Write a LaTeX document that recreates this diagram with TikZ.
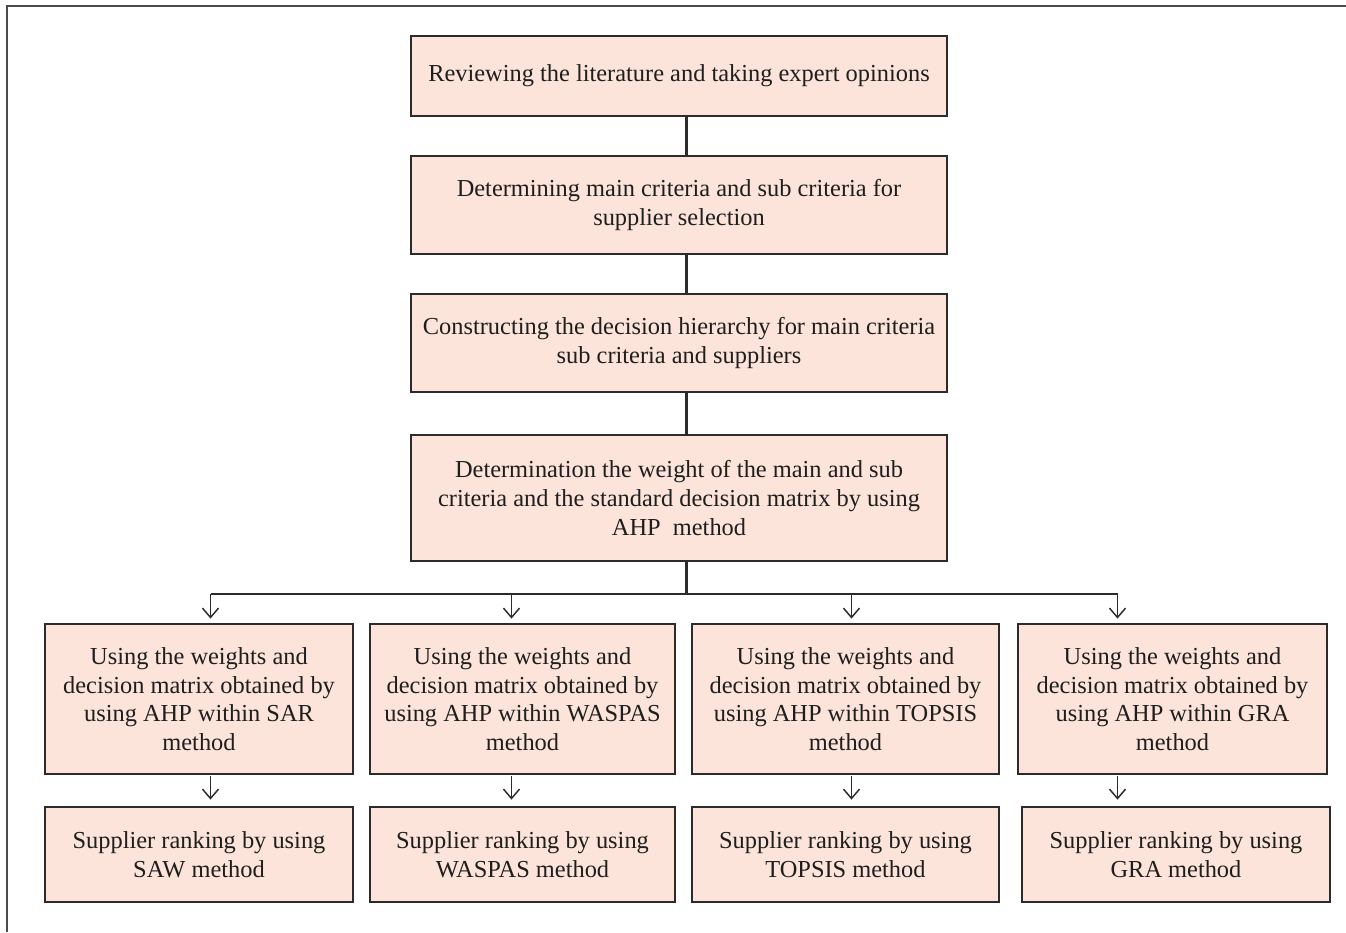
\documentclass[tikz,border=0pt]{standalone}
\usepackage{fontspec}
\setmainfont{Liberation Serif}
\usetikzlibrary{arrows.meta}
\definecolor{boxfill}{HTML}{FCE4DA}
\definecolor{boxline}{HTML}{2B2B2B}
\definecolor{txt}{HTML}{1E1E1E}
\tikzset{
  stepbox/.style={draw=boxline, line width=1.1pt, fill=boxfill, rectangle, inner sep=0pt,
    align=center, text=txt, font=\fontsize{18.3}{21.4}\selectfont},
  spine/.style={draw=boxline, line width=2.4pt},
  branch/.style={draw=boxline, line width=1pt},
  arr/.style={draw=boxline, line width=1pt, -{Straight Barb[length=7pt,width=12pt,line width=1.1pt]}},
}
\begin{document}
\begin{tikzpicture}[x=0.75pt,y=-0.75pt]
\useasboundingbox (0,0) rectangle (1346,932);
% frame
\draw[draw=boxline!85, line width=1.2pt] (7,932) -- (7,6) -- (1346,6);
% main column
\node[stepbox, minimum width=402pt, minimum height=60pt] (t1) at (679,76)
  {Reviewing the literature and taking expert opinions};
\node[stepbox, minimum width=402pt, minimum height=73.5pt] (t2) at (679,205)
  {Determining main criteria and sub criteria for\\ supplier selection};
\node[stepbox, minimum width=402pt, minimum height=73.5pt] (t3) at (679,343)
  {Constructing the decision hierarchy for main criteria\\ sub criteria and suppliers};
\node[stepbox, minimum width=402pt, minimum height=94.5pt] (t4) at (679,498)
  {Determination the weight of the main and sub\\ criteria and the standard decision matrix by using\\ AHP~ method};
% method boxes
\node[stepbox, minimum width=231pt, minimum height=112.5pt] (b1) at (199,699)
  {Using the weights and\\ decision matrix obtained by\\ using AHP within SAR\\ method};
\node[stepbox, minimum width=228.75pt, minimum height=112.5pt] (b2) at (522.5,699)
  {Using the weights and\\ decision matrix obtained by\\ using AHP within WASPAS\\ method};
\node[stepbox, minimum width=230.25pt, minimum height=112.5pt] (b3) at (845.5,699)
  {Using the weights and\\ decision matrix obtained by\\ using AHP within TOPSIS\\ method};
\node[stepbox, minimum width=231.75pt, minimum height=112.5pt] (b4) at (1172.5,699)
  {Using the weights and\\ decision matrix obtained by\\ using AHP within GRA\\ method};
% ranking boxes
\node[stepbox, minimum width=231pt, minimum height=71.25pt] (c1) at (199,854.5)
  {Supplier ranking by using\\ SAW method};
\node[stepbox, minimum width=228.75pt, minimum height=71.25pt] (c2) at (522.5,854.5)
  {Supplier ranking by using\\ WASPAS method};
\node[stepbox, minimum width=230.25pt, minimum height=71.25pt] (c3) at (845.5,854.5)
  {Supplier ranking by using\\ TOPSIS method};
\node[stepbox, minimum width=231pt, minimum height=71.25pt] (c4) at (1176,854.5)
  {Supplier ranking by using\\ GRA method};
% spine
\coordinate (sx) at (686.5,0);
\coordinate (j) at (686.5,594);
\draw[spine] (t1.south -| sx) -- (t2.north -| sx);
\draw[spine] (t2.south -| sx) -- (t3.north -| sx);
\draw[spine] (t3.south -| sx) -- (t4.north -| sx);
\draw[spine] (t4.south -| sx) -- (j);
% branch
\coordinate (a1) at (210.5,594);
\coordinate (a2) at (511.5,594);
\coordinate (a3) at (851.5,594);
\coordinate (a4) at (1117.5,594);
\draw[branch] (a1) -- (a4);
\draw[arr, shorten >=3.5pt] (a1) -- (b1.north -| a1);
\draw[arr, shorten >=3.5pt] (a2) -- (b2.north -| a2);
\draw[arr, shorten >=3.5pt] (a3) -- (b3.north -| a3);
\draw[arr, shorten >=3.5pt] (a4) -- (b4.north -| a4);
% lower arrows
\draw[arr, shorten <=1pt, shorten >=5pt] (b1.south -| a1) -- (c1.north -| a1);
\draw[arr, shorten <=1pt, shorten >=5pt] (b2.south -| a2) -- (c2.north -| a2);
\draw[arr, shorten <=1pt, shorten >=5pt] (b3.south -| a3) -- (c3.north -| a3);
\draw[arr, shorten <=1pt, shorten >=5pt] (b4.south -| a4) -- (c4.north -| a4);
\end{tikzpicture}
\end{document}
